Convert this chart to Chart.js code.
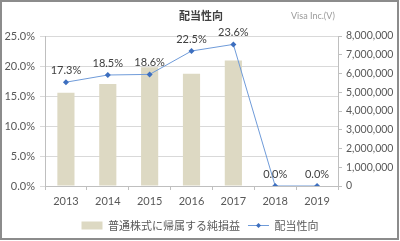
<!DOCTYPE html>
<html><head><meta charset="utf-8">
<title>配当性向 - Visa Inc.</title>
<script src="https://cdn.jsdelivr.net/npm/chart.js@4/dist/chart.umd.min.js"></script>
<style>
html,body{margin:0;padding:0;background:#fff;}
#container{width:400px;height:241px;position:relative;}
</style>
</head>
<body><div id="container"><canvas id="canvas"></canvas></div>
<script>
// data
var years = ['2013', '2014', '2015', '2016', '2017', '2018', '2019'];
var netIncome = [4980000, 5438000, 6328000, 5991000, 6699000, 0, 0];
var payoutRatio = [17.3, 18.5, 18.6, 22.5, 23.6, 0.0, 0.0];
var pctTicks = [0, 5, 10, 15, 20, 25];
var valTicks = [0, 1000000, 2000000, 3000000, 4000000, 5000000, 6000000, 7000000, 8000000];

var numFont = "Lato, 'Noto Sans CJK JP', sans-serif";
var jpFont = "'Noto Sans CJK JP', sans-serif";

// title, subtitle, point labels, legend marker and frame
var decorations = {
  id: 'decorations',
  afterDatasetsDraw: function(chart) {
    var ctx = chart.ctx;
    var meta = chart.getDatasetMeta(1);
    ctx.save();
    ctx.fillStyle = '#404040';
    ctx.font = '11px ' + numFont;
    ctx.textAlign = 'center';
    ctx.textBaseline = 'bottom';
    meta.data.forEach(function(pt, i) {
      ctx.fillText(payoutRatio[i].toFixed(1) + '%', pt.x, pt.y - 6);
    });
    ctx.restore();
  },
  afterDraw: function(chart) {
    var ctx = chart.ctx;
    ctx.save();
    // small diamond on the line legend item
    var box = chart.legend.legendHitBoxes[1];
    if (box) {
      var cx = box.left + 10.5, cy = box.top + box.height / 2;
      ctx.fillStyle = '#3d6fbf';
      ctx.beginPath();
      ctx.moveTo(cx, cy - 2.5); ctx.lineTo(cx + 2.5, cy); ctx.lineTo(cx, cy + 2.5); ctx.lineTo(cx - 2.5, cy);
      ctx.closePath();
      ctx.fill();
    }
    ctx.fillStyle = '#404040';
    ctx.font = 'bold 11px ' + jpFont;
    ctx.textAlign = 'center';
    ctx.textBaseline = 'middle';
    ctx.fillText('配当性向', 201, 16);
    ctx.fillStyle = '#9a9a9a';
    ctx.font = '9px ' + numFont;
    ctx.textAlign = 'left';
    ctx.fillText('Visa Inc.(V)', 291, 16);
    ctx.strokeStyle = '#8c8c8c';
    ctx.lineWidth = 2;
    ctx.strokeRect(1, 1, 397, 238);
    ctx.restore();
  }
};

var ctx = document.getElementById('canvas').getContext('2d');
new Chart(ctx, {
  data: {
    labels: years,
    datasets: [{
      type: 'bar',
      label: '普通株式に帰属する純損益',
      data: netIncome,
      yAxisID: 'yVal',
      backgroundColor: '#ddd9c3',
      borderWidth: 0,
      barPercentage: 0.41,
      categoryPercentage: 1,
      order: 2
    }, {
      type: 'line',
      label: '配当性向',
      data: payoutRatio,
      yAxisID: 'yPct',
      borderColor: '#6f9bd9',
      backgroundColor: '#3d6fbf',
      borderWidth: 1,
      pointStyle: 'rectRot',
      pointRadius: 3,
      pointBorderWidth: 0,
      pointBackgroundColor: '#3d6fbf',
      tension: 0,
      order: 1
    }]
  },
  options: {
    responsive: true,
    maintainAspectRatio: false,
    animation: false,
    layout: { padding: { top: 36, left: 0, right: 0, bottom: 0 } },
    plugins: {
      title: { display: false },
      tooltip: { enabled: false },
      legend: {
        display: true,
        position: 'bottom',
        labels: {
          usePointStyle: true,
          pointStyleWidth: 21,
          boxHeight: 8,
          padding: 8,
          color: '#595959',
          font: { family: jpFont, size: 11 },
          generateLabels: function(chart) {
            return [{
              text: '普通株式に帰属する純損益',
              fillStyle: '#ddd9c3', strokeStyle: '#ddd9c3', lineWidth: 0,
              pointStyle: 'rect', datasetIndex: 0, fontColor: '#595959'
            }, {
              text: '配当性向',
              fillStyle: '#6f9bd9', strokeStyle: '#6f9bd9', lineWidth: 1,
              pointStyle: 'line', datasetIndex: 1, fontColor: '#595959'
            }];
          }
        }
      }
    },
    scales: {
      x: {
        grid: { display: true, offset: true, drawOnChartArea: false, drawTicks: true, tickLength: 4, color: '#bfbfbf' },
        border: { display: true, color: '#bfbfbf' },
        ticks: { color: '#595959', font: { family: numFont, size: 11 }, padding: 5 },
        afterFit: function(scale) { scale.height = 26; }
      },
      yPct: {
        position: 'left',
        min: 0,
        max: 25,
        afterBuildTicks: function(scale) { scale.ticks = pctTicks.map(function(v) { return { value: v }; }); },
        ticks: {
          color: '#595959',
          font: { family: numFont, size: 11 },
          padding: 5,
          callback: function(v) { return v.toFixed(1) + '%'; }
        },
        grid: { color: '#d9d9d9', tickLength: 5, drawTicks: true },
        border: { display: true, color: '#bfbfbf' },
        afterFit: function(scale) { scale.width = 45; }
      },
      yVal: {
        position: 'right',
        min: 0,
        max: 8000000,
        afterBuildTicks: function(scale) { scale.ticks = valTicks.map(function(v) { return { value: v }; }); },
        ticks: {
          color: '#595959',
          font: { family: numFont, size: 10.5 },
          padding: 4,
          callback: function(v) { return v.toLocaleString('en-US'); }
        },
        grid: { drawOnChartArea: false, drawTicks: true, tickLength: 4, color: '#bfbfbf' },
        border: { display: true, color: '#bfbfbf' },
        afterFit: function(scale) { scale.width = 62; }
      }
    }
  },
  plugins: [decorations]
});
</script>
</body></html>
